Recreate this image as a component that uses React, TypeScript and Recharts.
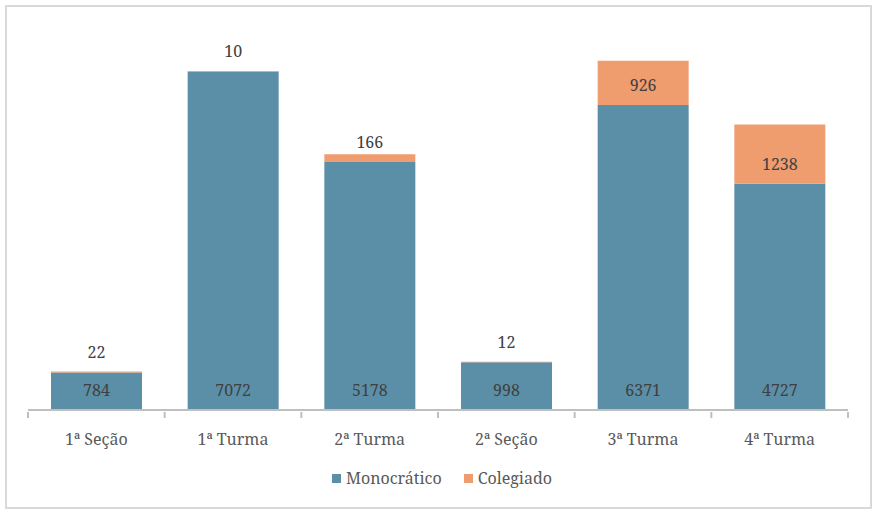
import { Bar, BarChart, LabelList, Legend, XAxis, YAxis } from "recharts";

const CATEGORIES = ["1ª Seção", "1ª Turma", "2ª Turma", "2ª Seção", "3ª Turma", "4ª Turma"];
const MONOCRATICO = [784, 7072, 5178, 998, 6371, 4727];
const COLEGIADO = [22, 10, 166, 12, 926, 1238];

const BLUE = "#5B8FA8";
const ORANGE = "#EF9C6F";
const FONT = "Noto Serif";

const rows = CATEGORIES.map((name, i) => ({
  name,
  mono: MONOCRATICO[i],
  coleg: COLEGIADO[i],
}));

// Excel "inside base" style: label sits ~20px above the segment's bottom edge
function BaseLabel(props: any) {
  const vb = props.viewBox ?? props;
  const x = Number(vb.x ?? props.x);
  const y = Number(vb.y ?? props.y);
  const w = Number(vb.width ?? props.width);
  const h = Number(vb.height ?? props.height);
  return (
    <text
      x={x + w / 2}
      y={y + h - 20}
      textAnchor="middle"
      dominantBaseline="central"
      fontSize={16}
      fontFamily={FONT}
      fill="#404040"
    >
      {props.value}
    </text>
  );
}

function CategoryTick(props: any) {
  const { x, y, payload, index, width } = props;
  const band = (width || 820) / CATEGORIES.length;
  const left = x - band / 2;
  return (
    <g>
      <line x1={left} y1={y} x2={left} y2={y + 6} stroke="#BFBFBF" strokeWidth={2} />
      {index === CATEGORIES.length - 1 ? (
        <line x1={x + band / 2} y1={y} x2={x + band / 2} y2={y + 6} stroke="#BFBFBF" strokeWidth={2} />
      ) : null}
      <text
        x={x}
        y={y + 27}
        textAnchor="middle"
        dominantBaseline="central"
        fontSize={16}
        fontFamily={FONT}
        fill="#595959"
      >
        {payload.value}
      </text>
    </g>
  );
}

function LegendContent() {
  const items = [
    { label: "Monocrático", color: BLUE },
    { label: "Colegiado", color: ORANGE },
  ];
  return (
    <div
      style={{
        display: "flex",
        justifyContent: "center",
        alignItems: "center",
        gap: 22,
        paddingLeft: 8,
        height: 30,
        fontFamily: FONT,
        fontSize: 16,
        color: "#595959",
      }}
    >
      {items.map((it) => (
        <span key={it.label} style={{ display: "flex", alignItems: "center" }}>
          <span style={{ width: 9, height: 9, background: it.color, marginRight: 5, display: "inline-block" }} />
          {it.label}
        </span>
      ))}
    </div>
  );
}

export default function App() {
  return (
    <div style={{ position: "absolute", left: 0, top: 0, width: 876, height: 514, background: "#fff" }}>
      <div
        style={{
          position: "absolute",
          left: 5,
          top: 5,
          width: 863,
          height: 500,
          border: "2px solid #D9D9D9",
          boxSizing: "content-box",
        }}
      />
      <BarChart
        width={876}
        height={514}
        data={rows}
        margin={{ top: 27, right: 28, left: 28, bottom: 21 }}
        barSize={91}
        style={{ position: "absolute", left: 0, top: 0 }}
      >
        <XAxis
          dataKey="name"
          height={53}
          tickSize={0}
          tickLine={false}
          axisLine={{ stroke: "#BFBFBF", strokeWidth: 2 }}
          tick={<CategoryTick />}
          interval={0}
        />
        <YAxis hide domain={[0, 8000]} />
        <Legend verticalAlign="bottom" height={30} content={<LegendContent />} />
        <Bar dataKey="mono" name="Monocrático" stackId="a" fill={BLUE} isAnimationActive={false}>
          <LabelList dataKey="mono" content={<BaseLabel />} />
        </Bar>
        <Bar dataKey="coleg" name="Colegiado" stackId="a" fill={ORANGE} isAnimationActive={false}>
          <LabelList dataKey="coleg" content={<BaseLabel />} />
        </Bar>
      </BarChart>
    </div>
  );
}
